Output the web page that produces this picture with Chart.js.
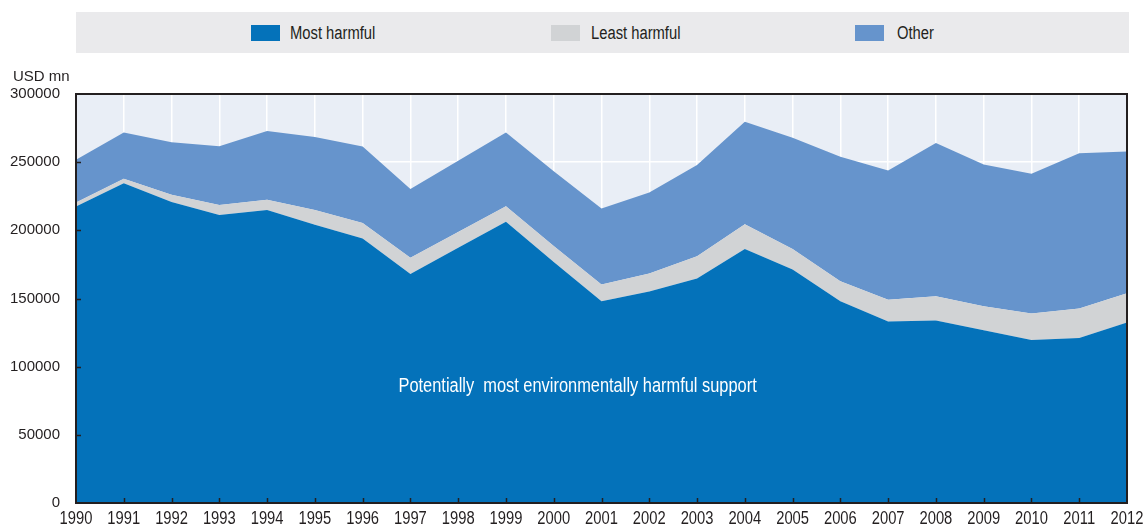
<!DOCTYPE html>
<html>
<head>
<meta charset="utf-8">
<script src="https://cdn.jsdelivr.net/npm/chart.js@4.4.0/dist/chart.umd.min.js"></script>
<style>
  html, body { margin: 0; padding: 0; background: #ffffff; overflow: hidden; }
  #wrap { position: relative; width: 1144px; height: 528px; }
  #legend { position: absolute; left: 76px; top: 12px; width: 1053px; height: 41px; background: #eaeaec; }
  .sw { position: absolute; top: 13px; width: 29px; height: 16px; }
  .lt { position: absolute; top: 10px; font-family: "Liberation Sans", Arial, sans-serif; font-size: 18px; color: #231f20; line-height: 22px; white-space: pre; transform: scaleX(0.82); transform-origin: 0 50%; }
  #unit { position: absolute; left: 13px; top: 67px; font-family: "Liberation Sans", Arial, sans-serif; font-size: 15px; color: #231f20; }
  canvas { position: absolute; left: 0; top: 0; }
</style>
</head>
<body>
<div id="wrap">
  <canvas id="c" width="1144" height="528"></canvas>
  <div id="legend"></div>
  <div id="unit">USD mn</div>
</div>
<script>
const years = ['1990','1991','1992','1993','1994','1995','1996','1997','1998','1999','2000','2001','2002','2003','2004','2005','2006','2007','2008','2009','2010','2011','2012'];
const mostHarmful  = [217500, 234600, 220700, 211200, 214900, 204100, 194100, 168000, 187300, 206300, 176800, 148000, 155100, 164600, 186300, 171200, 148000, 133200, 133900, 126800, 119500, 121000, 132400];
const leastHarmful = [3000, 3200, 5400, 7300, 7500, 10800, 11300, 11800, 11500, 11300, 11700, 12200, 13200, 16400, 18100, 15100, 14700, 15800, 17800, 17600, 19500, 21700, 21500];
const other        = [31200, 33900, 38500, 43200, 50500, 53600, 56100, 50500, 52200, 54100, 54900, 55800, 59500, 67000, 75300, 81700, 91300, 94900, 112400, 103900, 102500, 113900, 103900];
const seriesNames  = ['Most harmful', 'Least harmful', 'Other'];
const seriesColors = ['#0472ba', '#d1d3d5', '#6694cc'];
const yTickValues  = [0, 50000, 100000, 150000, 200000, 250000, 300000];
const annotationText = 'Potentially  most environmentally harmful support';

// HTML legend
const legend = document.getElementById('legend');
const legendPos = [[175, 214], [475, 515], [779, 821]];
seriesNames.forEach((n, i) => {
  const s = document.createElement('div');
  s.className = 'sw'; s.style.left = legendPos[i][0] + 'px'; s.style.background = seriesColors[i];
  legend.appendChild(s);
  const t = document.createElement('div');
  t.className = 'lt'; t.style.left = legendPos[i][1] + 'px'; t.textContent = n;
  legend.appendChild(t);
});

const sans = '"Liberation Sans", Arial, sans-serif';
const NARROW = 0.82;

function narrowText(ctx, text, x, y) {
  ctx.save();
  ctx.translate(x, y);
  ctx.scale(NARROW, 1);
  ctx.fillText(text, 0, 0);
  ctx.restore();
}

const framePlugin = {
  id: 'frame',
  beforeDraw(chart) {
    const a = chart.chartArea, ctx = chart.ctx;
    ctx.save();
    ctx.fillStyle = '#e9eef6';
    ctx.fillRect(a.left, a.top, a.right - a.left, a.bottom - a.top);
    ctx.restore();
  },
  afterDatasetsDraw(chart) {
    const a = chart.chartArea, ctx = chart.ctx;
    const xs = chart.scales.x, ys = chart.scales.y;
    ctx.save();
    // annotation
    ctx.fillStyle = '#ffffff';
    ctx.font = '20px ' + sans;
    ctx.textAlign = 'center';
    ctx.textBaseline = 'middle';
    narrowText(ctx, annotationText, xs.getPixelForValue(10.5), ys.getPixelForValue(85500));
    // x tick labels (condensed)
    ctx.fillStyle = '#231f20';
    ctx.font = '18px ' + sans;
    ctx.textAlign = 'center';
    ctx.textBaseline = 'top';
    years.forEach((yr, i) => narrowText(ctx, yr, xs.getPixelForValue(i), a.bottom + 7));
    // inside ticks
    ctx.strokeStyle = '#231f20';
    ctx.lineWidth = 1.5;
    ctx.beginPath();
    for (let i = 1; i < years.length - 1; i++) {
      const x = Math.round(xs.getPixelForValue(i)) + 0.5;
      ctx.moveTo(x, a.bottom); ctx.lineTo(x, a.bottom - 5);
    }
    yTickValues.slice(1, -1).forEach(v => {
      const y = Math.round(ys.getPixelForValue(v)) + 0.5;
      ctx.moveTo(a.left, y); ctx.lineTo(a.left + 5, y);
    });
    ctx.stroke();
    // frame
    ctx.lineWidth = 2;
    ctx.strokeStyle = '#231f20';
    ctx.strokeRect(a.left, a.top, a.right - a.left, a.bottom - a.top);
    ctx.restore();
  }
};

const datasets = [mostHarmful, leastHarmful, other].map((d, i) => ({
  label: seriesNames[i],
  data: d,
  backgroundColor: seriesColors[i],
  borderColor: seriesColors[i],
  borderWidth: 0,
  pointRadius: 0,
  tension: 0,
  fill: i === 0 ? 'origin' : '-1'
}));

new Chart(document.getElementById('c'), {
  type: 'line',
  data: { labels: years, datasets },
  plugins: [framePlugin],
  options: {
    responsive: false,
    animation: false,
    devicePixelRatio: 1,
    layout: { padding: { top: 94, right: 17, left: 0, bottom: 0 } },
    plugins: { legend: { display: false }, tooltip: { enabled: false } },
    scales: {
      x: {
        offset: false,
        grid: { color: '#ffffff', lineWidth: 1.5, drawTicks: false },
        border: { display: false },
        ticks: { display: false, autoSkip: false },
        afterFit(s) { s.height = 24; }
      },
      y: {
        stacked: true,
        min: 0, max: 300000,
        grid: { color: '#ffffff', lineWidth: 1.5, drawTicks: false },
        border: { display: false },
        afterBuildTicks(s) { s.ticks = yTickValues.map(v => ({ value: v })); },
        ticks: { color: '#231f20', font: { family: sans, size: 15 }, padding: 16, callback: v => String(v) },
        afterFit(s) { s.width = 76; }
      }
    }
  }
});
</script>
</body>
</html>
